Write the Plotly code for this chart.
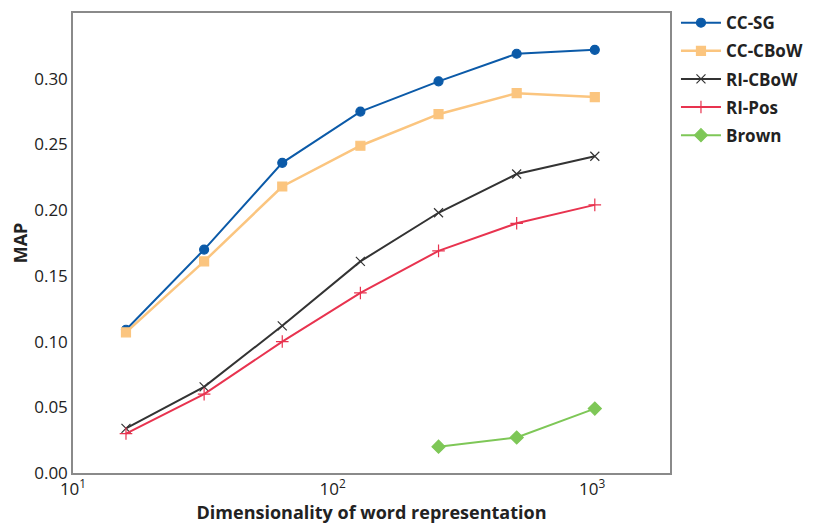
import plotly.graph_objects as go

dims = [16, 32, 64, 128, 256, 512, 1024]
cc_sg = [0.109, 0.170, 0.236, 0.275, 0.298, 0.319, 0.322]
cc_cbow = [0.107, 0.161, 0.218, 0.249, 0.273, 0.289, 0.286]
ri_cbow = [0.034, 0.0655, 0.112, 0.161, 0.198, 0.2275, 0.241]
ri_pos = [0.030, 0.060, 0.100, 0.137, 0.169, 0.190, 0.204]
brown_dims = [256, 512, 1024]
brown = [0.020, 0.027, 0.049]

x_tickvals = [10, 100, 1000]
x_ticktext = ["10<sup>1</sup>", "10<sup>2</sup>", "10<sup>3</sup>"]
y_tickvals = [0.00, 0.05, 0.10, 0.15, 0.20, 0.25, 0.30]
y_ticktext = ["0.00", "0.05", "0.10", "0.15", "0.20", "0.25", "0.30"]

series = [
    ("CC-SG", dims, cc_sg, "#0b5aa8", "circle", 9, 2),
    ("CC-CBoW", dims, cc_cbow, "#fbc57f", "square", 9, 2.5),
    ("RI-CBoW", dims, ri_cbow, "#333333", "x-thin", 9, 2),
    ("RI-Pos", dims, ri_pos, "#e8334f", "cross-thin", 9, 2),
    ("Brown", brown_dims, brown, "#7ec757", "diamond", 10, 2),
]

fig = go.Figure()
for name, xs, ys, color, sym, size, lw in series:
    fig.add_trace(go.Scatter(
        x=xs, y=ys, name="<b>" + name + "</b>", mode="lines+markers",
        legendgroup=name,
        line=dict(color=color, width=lw),
        marker=dict(symbol=sym, size=size, color=color,
                    line=dict(color=color, width=1.2)),
    ))

font_family = "Open Sans, Noto Sans, sans-serif"
fig.update_layout(
    width=807, height=520,
    margin=dict(l=65, r=145, t=5, b=55, autoexpand=False),
    paper_bgcolor="white", plot_bgcolor="white",
    font=dict(family=font_family, color="#222222", size=15),
    showlegend=True,
    legend=dict(x=1.01, y=1.017, xanchor="left", yanchor="top",
                font=dict(size=17, color="#222222", family=font_family),
                tracegroupgap=3, itemwidth=40,
                bgcolor="rgba(0,0,0,0)"),
    xaxis=dict(type="log", range=[1, 3.3], tickvals=x_tickvals, ticktext=x_ticktext,
               showgrid=False, zeroline=False, showline=True, mirror=True,
               linecolor="#8a8a8a", linewidth=1.5, ticks="", automargin=False,
               title=dict(text="<b>Dimensionality of word representation</b>",
                          font=dict(size=18), standoff=2),
               tickfont=dict(size=17)),
    yaxis=dict(range=[0, 0.35], tickvals=y_tickvals, ticktext=y_ticktext,
               showgrid=False, zeroline=False, showline=True, mirror=True,
               linecolor="#8a8a8a", linewidth=1.5, ticks="", automargin=False,
               title=dict(text="<b>MAP</b>", font=dict(size=18), standoff=4),
               tickfont=dict(size=17)),
)

fig.write_html("out.html")
